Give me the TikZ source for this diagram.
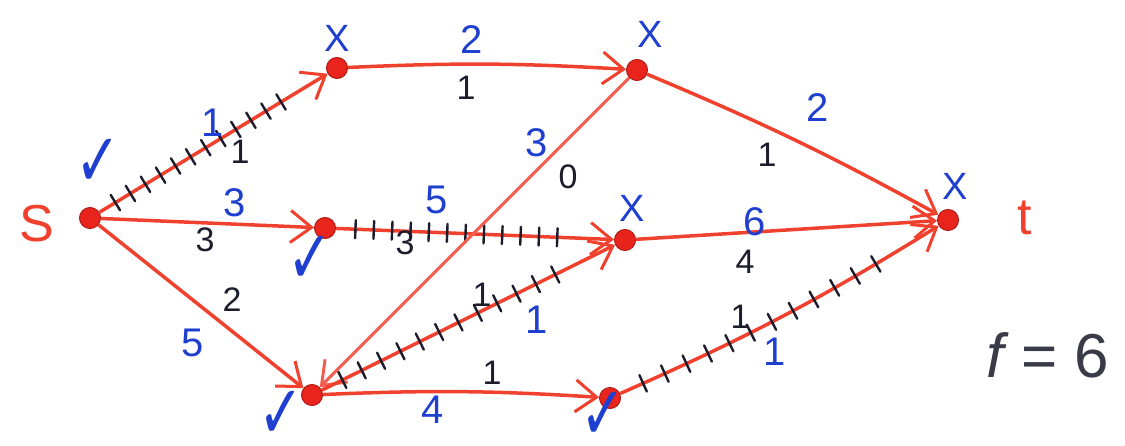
\documentclass[tikz,border=0pt]{standalone}
\usepackage{fontspec}
\setmainfont{Liberation Sans}
\newfontfamily\symfont{DejaVu Sans}
\usetikzlibrary{arrows.meta,decorations.markings}
\definecolor{edgered}{HTML}{F0402E}
\definecolor{nodered}{HTML}{E8241C}
\definecolor{capblue}{HTML}{1E3FCF}
\definecolor{flowblack}{HTML}{1C1C2C}
\definecolor{fgray}{HTML}{3A3A48}
\newcommand{\chkmark}{\scalebox{0.9}[1.25]{✓}}
\begin{document}
\begin{tikzpicture}[x=1pt,y=-1pt,
  vtx/.style={circle, fill=nodered, draw=nodered!75!black, line width=1pt, minimum size=21pt, inner sep=0pt},
  edge/.style={draw=edgered, line width=3.5pt, -{Straight Barb[length=21pt,width=32pt,line width=3pt]}},
  hatch/.style={postaction={decorate}, decoration={markings,
     mark=between positions 0.07 and 0.86 step 0.066 with {\draw[-, flowblack, line width=2.4pt, line cap=round] (0,-9pt) -- (0,9pt);}}},
  capl/.style={text=capblue, font=\fontsize{40}{40}\selectfont},
  flowl/.style={text=flowblack, font=\fontsize{34}{34}\selectfont},
  mk/.style={text=capblue, font=\fontsize{38}{38}\selectfont},
  chk/.style={text=capblue, inner sep=0pt, font=\symfont\fontsize{60}{60}\selectfont},
  lbl/.style={text=edgered, font=\fontsize{52}{52}\selectfont},
]
\useasboundingbox (0,0) rectangle (1125,446);
% vertices
\node[vtx] (S) at (90,218) {};
\node[vtx] (A) at (337,68) {};
\node[vtx] (B) at (637,70) {};
\node[vtx] (C) at (325,228) {};
\node[vtx] (D) at (625,240) {};
\node[vtx] (T) at (948,220) {};
\node[vtx] (E) at (312,395) {};
\node[vtx] (F) at (610,398) {};
% edges
\draw[edge,hatch] (S) -- (A);
\draw[edge] (A) to[bend left=3] (B);
\draw[edge] (B) to[bend left=3] (T);
\draw[edge] (S) -- (C);
\draw[edge,hatch] (C) -- (D);
\draw[edge, draw=edgered!85, line width=3pt] (B) -- (E);
\draw[edge] (D) -- (T);
\draw[edge] (S) -- (E);
\draw[edge,hatch] (E) -- (D);
\draw[edge] (E) to[bend left=3] (F);
\draw[edge,hatch] (F) to[bend right=4] (T);
% capacities (blue) and flows (black)
\node[capl]  (cSA) at (213,123) {1};
\node[flowl] (fSA) at (240,152) {1};
\node[capl]  (cAB) at (472,40) {2};
\node[flowl] (fAB) at (466,88) {1};
\node[capl]  (cBT) at (818,108) {2};
\node[flowl] (fBT) at (767,155) {1};
\node[capl]  (cSC) at (235,203) {3};
\node[flowl] (fSC) at (205,240) {3};
\node[capl]  (cCD) at (437,200) {5};
\node[flowl] (fCD) at (405,243) {3};
\node[capl]  (cBE) at (537,143) {3};
\node[flowl] (fBE) at (568,177) {0};
\node[capl]  (cDT) at (755,222) {6};
\node[flowl] (fDT) at (745,262) {4};
\node[flowl] (fSE) at (232,300) {2};
\node[capl]  (cSE) at (193,343) {5};
\node[flowl] (fED) at (482,295) {1};
\node[capl]  (cED) at (537,320) {1};
\node[flowl] (fEF) at (492,373) {1};
\node[capl]  (cEF) at (433,410) {4};
\node[flowl] (fFT) at (740,317) {1};
\node[capl]  (cFT) at (775,352) {1};
% marks
\node[chk] (kS) at (98,163) {\chkmark};
\node[chk] (kC) at (310,260) {\chkmark};
\node[chk, anchor=south] (kE) at (281,439) {\chkmark};
\node[chk, anchor=south] (kF) at (603,440) {\chkmark};
\node[mk] (xA) at (337,38) {X};
\node[mk] (xB) at (650,34) {X};
\node[mk] (xD) at (632,208) {X};
\node[mk] (xT) at (955,186) {X};
% terminal labels
\node[lbl] (lS) at (37,224) {S};
\node[lbl] (lT) at (1025,218) {t};
\node[text=fgray, font=\fontsize{62}{62}\selectfont] (fval) at (1048,355) {\itshape f\upshape{} = 6};
\end{tikzpicture}
\end{document}
